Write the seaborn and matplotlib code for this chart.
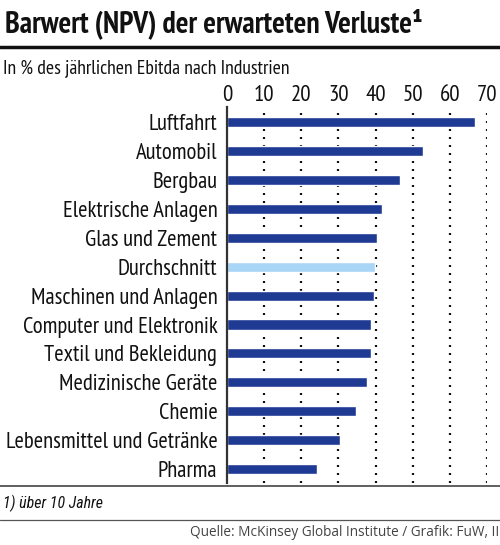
import matplotlib
matplotlib.use("Agg")
import matplotlib.pyplot as plt
import seaborn as sns
import pandas as pd

industries = [
    "Luftfahrt", "Automobil", "Bergbau", "Elektrische Anlagen", "Glas und Zement",
    "Durchschnitt", "Maschinen und Anlagen", "Computer und Elektronik",
    "Textil und Bekleidung", "Medizinische Geräte", "Chemie",
    "Lebensmittel und Getränke", "Pharma",
]
npv_pct = [66.8, 52.8, 46.5, 41.6, 40.4, 39.9, 39.7, 38.8, 38.8, 37.8, 34.8, 30.4, 24.2]
xticks = [0, 10, 20, 30, 40, 50, 60, 70]

dark_blue = "#1f3a93"
light_blue = "#a9d5f7"
colors = [light_blue if c == "Durchschnitt" else dark_blue for c in industries]

df = pd.DataFrame({"industry": industries, "value": npv_pct})

sns.set_style("white")
plt.rcParams["font.family"] = ["PT Sans Narrow", "DejaVu Sans"]

W, H = 500, 545
fig = plt.figure(figsize=(W / 100, H / 100), dpi=100)


def fx(px):
    return px / W


def fy(py):
    return 1 - py / H


ax = fig.add_axes([fx(227), fy(483), fx(487) - fx(227), fy(107) - fy(483)])
sns.barplot(data=df, x="value", y="industry", hue="industry", palette=colors,
            orient="h", width=0.35, legend=False, ax=ax, saturation=1)

ax.set_xlim(0, 70)
ax.set_ylim(12.48, -0.52)
ax.set_xticks(xticks)
ax.xaxis.tick_top()
ax.tick_params(axis="x", length=0, pad=1, labelsize=16.5, colors="#111")
ax.tick_params(axis="y", length=0, pad=7, labelsize=16.3, colors="#111")
ax.set_xlabel("")
ax.set_ylabel("")
for x in xticks[1:]:
    ax.axvline(x, color="#111", linestyle=(0, (0.9, 2.7)), linewidth=1.6, zorder=0)
sns.despine(ax=ax, left=False, bottom=True, right=True, top=True)
ax.spines["left"].set_color("#333")
ax.spines["left"].set_linewidth(1.6)
ax.set_facecolor("none")

fig.text(fx(5), fy(24), "Barwert (NPV) der erwarteten Verluste¹", fontsize=21.5,
         fontweight="bold", va="center", ha="left", color="#111")
fig.add_artist(plt.Line2D([0, 1], [fy(46.5), fy(46.5)], color="#111", linewidth=2.5))
fig.text(fx(3), fy(68), "In % des jährlichen Ebitda nach Industrien", fontsize=14.2,
         va="center", ha="left", color="#111")
fig.add_artist(plt.Line2D([0, 1], [fy(486), fy(486)], color="#444", linewidth=1.2))
fig.text(fx(3), fy(503), "1) über 10 Jahre", fontsize=11.4, style="italic",
         family=["Roboto Condensed", "DejaVu Sans"],
         va="center", ha="left", color="#111")
fig.add_artist(plt.Line2D([0, 1], [fy(520), fy(520)], color="#555", linewidth=0.9))
fig.text(fx(190), fy(533), "Quelle: McKinsey Global Institute / Grafik: FuW, II",
         fontsize=9.8, family=["Open Sans", "DejaVu Sans"], va="center", ha="left",
         color="#444")

fig.savefig("out.png", dpi=100)
